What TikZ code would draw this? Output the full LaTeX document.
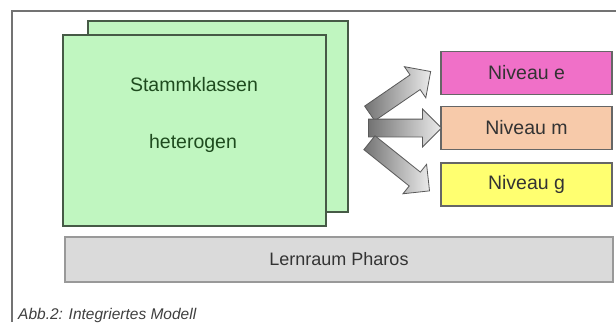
\documentclass[tikz,border=0pt]{standalone}
\usepackage{fontspec}
\setmainfont{Liberation Sans}
\usepackage{tikz}
\usetikzlibrary{positioning, shapes.arrows}
\definecolor{framegray}{gray}{0.45}
\definecolor{classgreen}{RGB}{192,246,192}
\definecolor{classline}{RGB}{70,90,70}
\definecolor{classtext}{RGB}{30,75,30}
\definecolor{nivE}{RGB}{240,112,200}
\definecolor{nivM}{RGB}{247,202,170}
\definecolor{nivG}{RGB}{255,255,112}
\definecolor{roomgray}{gray}{0.855}

\begin{document}
\begin{tikzpicture}[x=1pt, y=-1pt,
	box/.style={draw, line width=1.3pt, inner sep=0pt},
	label/.style={font=\fontsize{19.5}{22}\selectfont},
	blockarrow/.style={single arrow, draw=black!65, line width=0.8pt, inner xsep=0pt, inner ysep=8.5pt,
		single arrow head extend=10pt, single arrow head indent=0pt,
		left color=black!55, right color=black!8}]

\def \pw{616}
\def \ph{322}

\useasboundingbox (0,0) rectangle (\pw,\ph);
\fill[white] (0,0) rectangle (\pw,\ph);

\draw[framegray, line width=1.3pt] (12,\ph) -- (12,11) -- (\pw,11); % frame

% Stammklassen
\node[box, draw=classline, fill=classgreen, minimum width=260pt, minimum height=191pt] (back) at (218,116.5) {};
\node[box, draw=classline, fill=classgreen, minimum width=263pt, minimum height=191pt] (front) at (194.5,130.5) {};
\node[label, text=classtext] (stamm) at (194,85) {Stammklassen};
\node[label, text=classtext] (hetero) at (193,143) {heterogen};

% Niveaus
\foreach \n/\y/\c in {e/73/nivE, m/128/nivM, g/184.5/nivG} {
	\node[box, draw=black!60, fill=\c, minimum width=171pt, minimum height=43pt, label, text=black!80] (niv\n) at (526.5,\y) {Niveau \n};
}

% arrows
\foreach \n/\x/\y/\r/\l in {e/396.5/95/34.5/74, m/400.5/128/0/73, g/396/164/-38.7/77} {
	\node[blockarrow, rotate=\r, minimum height=\l pt] (arrow\n) at (\x,\y) {};
}

% Lernraum
\node[box, draw=black!40, fill=roomgray, minimum width=548pt, minimum height=45pt, font=\fontsize{18}{20}\selectfont, text=black!80] (room) at (339,259.5) {Lernraum Pharos};

\node[anchor=base west, font=\fontsize{15.5}{17}\selectfont\itshape, text=black!75, inner sep=0pt] (caption) at (18,319) {Abb.2: Integriertes Modell};

\end{tikzpicture}
\end{document}
